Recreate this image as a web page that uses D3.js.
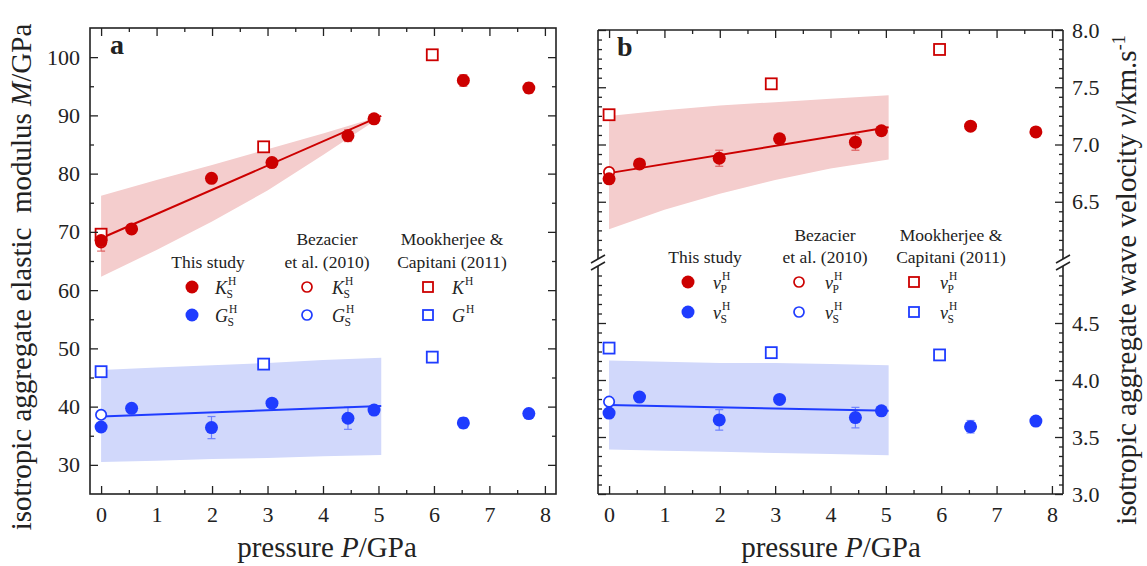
<!DOCTYPE html>
<html>
<head>
<meta charset="utf-8">
<script src="https://cdn.jsdelivr.net/npm/d3@7"></script>
<style>
    body { margin: 0; background: #fff; }
    svg text { font-family: "Liberation Serif", "DejaVu Serif", serif; fill: #222; }
</style>
</head>
<body>
<div id="chart"></div>
<script>
// ---- data ----
const pressure = [0, 0.55, 1.99, 3.08, 4.45, 4.92, 6.53, 7.71];
const KS = [68.5, 70.5, 79.2, 81.9, 86.5, 89.4, 96.0, 94.7];
const KSerr = [1.8, 0.5, 0.5, 0.6, 1.0, 0.5, 1.0, 0.9];
const GS = [36.5, 39.7, 36.4, 40.6, 38.0, 39.4, 37.2, 38.8];
const GSerr = [0.5, 0.5, 1.9, 0.5, 1.9, 0.5, 0.9, 0.6];
const vP = [6.70, 6.83, 6.88, 7.05, 7.02, 7.12, 7.16, 7.11];
const vPerr = [0.03, 0.02, 0.07, 0.02, 0.07, 0.02, 0.03, 0.02];
const vS = [3.71, 3.85, 3.65, 3.83, 3.67, 3.73, 3.59, 3.64];
const vSerr = [0.02, 0.02, 0.09, 0.02, 0.09, 0.02, 0.055, 0.02];

// Bezacier et al. (2010)
const bezP = [0];
const bezK = [68.2];
const bezG = [38.6];
const bezVP = [6.76];
const bezVS = [3.81];

// Mookherjee & Capitani (2011)
const mooP = [0, 2.93, 5.97];
const mooK = [69.6, 84.6, 100.4];
const mooG = [46.0, 47.3, 48.5];
const mooVP = [7.26, 7.53, 7.83];
const mooVS = [4.28, 4.24, 4.22];

// fits
const fitP = [0, 5.05];
const fitK = [68.9, 89.9];
const fitG = [38.3, 40.1];
const fitVP = [6.75, 7.15];
const fitVS = [3.78, 3.73];

// confidence bands
const bandP = [0, 1, 2, 3, 4, 5.05];
const bandKhi = [76.2, 78.9, 81.5, 84.2, 86.9, 89.9];
const bandKlo = [62.3, 66.9, 71.8, 77.1, 83.2, 89.8];
const bandGhi = [46.3, 46.7, 47.1, 47.5, 48.0, 48.4];
const bandGlo = [30.5, 30.7, 31.0, 31.2, 31.5, 31.7];
const bandVPhi = [7.25, 7.30, 7.34, 7.37, 7.40, 7.43];
const bandVPlo = [6.26, 6.43, 6.57, 6.69, 6.79, 6.87];
const bandVShi = [4.17, 4.16, 4.15, 4.15, 4.14, 4.13];
const bandVSlo = [3.39, 3.38, 3.37, 3.36, 3.35, 3.34];

// ticks
const xMajor = [0, 1, 2, 3, 4, 5, 6, 7, 8];
const xMinor = [0.5, 1.5, 2.5, 3.5, 4.5, 5.5, 6.5, 7.5];
const mMajor = [30, 40, 50, 60, 70, 80, 90, 100];
const mMinor = [35, 45, 55, 65, 75, 85, 95];
const vUpMajor = [6.5, 7.0, 7.5, 8.0];
const vLoMajor = [3.0, 3.5, 4.0, 4.5];

const red = "#cc0000", blue = "#1f3cff";
const redBand = "#f4cdcd", blueBand = "#d1d8fb";

const svg = d3.select("#chart").append("svg")
    .attr("width", 1147)
    .attr("height", 566);

// Scales
const xA = d3.scaleLinear().domain([-0.2, 8.2]).range([90, 556]);
const yA = d3.scaleLinear().domain([25, 105]).range([494, 28]);
const xB = d3.scaleLinear().domain([-0.2, 8.2]).range([598, 1063]);
const yBUp = d3.scaleLinear().domain([6, 8]).range([259, 30]);
const yBLo = d3.scaleLinear().domain([3, 5]).range([494, 266]);

// minor ticks of panel b: 5 between every labelled tick
function minorsBetween(majors, lo, hi) {
    const step = 0.5 / 6;
    const out = [];
    for (let v = lo + step; v < hi - 1e-6; v += step) {
        if (!majors.some(m => Math.abs(m - v) < 1e-6)) out.push(v);
    }
    return out;
}

function styleAxis(g) {
    g.select(".domain").remove();
    g.selectAll(".tick line").attr("stroke", "#222").attr("stroke-width", 1.3);
    g.selectAll(".tick text").style("font-size", "22px").attr("fill", "#222");
}

function addAxis(axis, tx, ty) {
    svg.append("g")
        .attr("transform", `translate(${tx},${ty})`)
        .call(axis)
        .call(styleAxis);
}

// ---------- bands, lines, points ----------
function drawBand(x, y, lo, hi, color) {
    const pts = bandP.map((p, i) => ({ p: p, lo: lo[i], hi: hi[i] }));
    svg.append("path")
        .attr("d", d3.area().x(d => x(d.p)).y0(d => y(d.lo)).y1(d => y(d.hi))(pts))
        .attr("fill", color);
}

function drawFit(x, y, vals, color) {
    const pts = fitP.map((p, i) => ({ p: p, v: vals[i] }));
    svg.append("path")
        .attr("d", d3.line().x(d => x(d.p)).y(d => y(d.v))(pts))
        .attr("stroke", color)
        .attr("stroke-width", 2)
        .attr("fill", "none");
}

function drawErrors(x, y, vals, errs, color) {
    const g = svg.append("g").attr("stroke", color).attr("stroke-width", 1.2).attr("opacity", 0.55);
    pressure.forEach((p, i) => {
        const cx = x(p), y0 = y(vals[i] - errs[i]), y1 = y(vals[i] + errs[i]);
        g.append("line").attr("x1", cx).attr("x2", cx).attr("y1", y0).attr("y2", y1);
        g.append("line").attr("x1", cx - 4).attr("x2", cx + 4).attr("y1", y0).attr("y2", y0);
        g.append("line").attr("x1", cx - 4).attr("x2", cx + 4).attr("y1", y1).attr("y2", y1);
    });
}

function drawFilled(x, y, ps, vals, color) {
    svg.append("g").selectAll("circle")
        .data(ps.map((p, i) => ({ p: p, v: vals[i] })))
        .enter().append("circle")
        .attr("cx", d => x(d.p)).attr("cy", d => y(d.v))
        .attr("r", 6.5).attr("fill", color);
}

function drawOpen(x, y, ps, vals, color) {
    svg.append("g").selectAll("circle")
        .data(ps.map((p, i) => ({ p: p, v: vals[i] })))
        .enter().append("circle")
        .attr("cx", d => x(d.p)).attr("cy", d => y(d.v))
        .attr("r", 5.2).attr("fill", "white").attr("stroke", color).attr("stroke-width", 1.7);
}

function drawSquares(x, y, ps, vals, color) {
    svg.append("g").selectAll("rect")
        .data(ps.map((p, i) => ({ p: p, v: vals[i] })))
        .enter().append("rect")
        .attr("x", d => x(d.p) - 5.5).attr("y", d => y(d.v) - 5.5)
        .attr("width", 11).attr("height", 11)
        .attr("fill", "white").attr("stroke", color).attr("stroke-width", 1.8);
}

// panel a
drawBand(xA, yA, bandKlo, bandKhi, redBand);
drawBand(xA, yA, bandGlo, bandGhi, blueBand);
drawFit(xA, yA, fitK, red);
drawFit(xA, yA, fitG, blue);
drawErrors(xA, yA, KS, KSerr, red);
drawErrors(xA, yA, GS, GSerr, blue);
drawSquares(xA, yA, mooP, mooK, red);
drawSquares(xA, yA, mooP, mooG, blue);
drawOpen(xA, yA, bezP, bezK, red);
drawOpen(xA, yA, bezP, bezG, blue);
drawFilled(xA, yA, pressure, KS, red);
drawFilled(xA, yA, pressure, GS, blue);

// panel b
drawBand(xB, yBUp, bandVPlo, bandVPhi, redBand);
drawBand(xB, yBLo, bandVSlo, bandVShi, blueBand);
drawFit(xB, yBUp, fitVP, red);
drawFit(xB, yBLo, fitVS, blue);
drawErrors(xB, yBUp, vP, vPerr, red);
drawErrors(xB, yBLo, vS, vSerr, blue);
drawSquares(xB, yBUp, mooP, mooVP, red);
drawSquares(xB, yBLo, mooP, mooVS, blue);
drawOpen(xB, yBUp, bezP, bezVP, red);
drawOpen(xB, yBLo, bezP, bezVS, blue);
drawFilled(xB, yBUp, pressure, vP, red);
drawFilled(xB, yBLo, pressure, vS, blue);

// ---------- axes ----------
// panel a
addAxis(d3.axisBottom(xA).tickValues(xMajor).tickSize(-8).tickPadding(12).tickFormat(d3.format("d")), 0, 494);
addAxis(d3.axisBottom(xA).tickValues(xMinor).tickSize(-4).tickFormat(""), 0, 494);
addAxis(d3.axisTop(xA).tickValues(xMajor).tickSize(-8).tickFormat(""), 0, 28);
addAxis(d3.axisTop(xA).tickValues(xMinor).tickSize(-4).tickFormat(""), 0, 28);
addAxis(d3.axisLeft(yA).tickValues(mMajor).tickSize(-8).tickPadding(10).tickFormat(d3.format("d")), 90, 0);
addAxis(d3.axisLeft(yA).tickValues(mMinor).tickSize(-4).tickFormat(""), 90, 0);
addAxis(d3.axisRight(yA).tickValues(mMajor).tickSize(-8).tickFormat(""), 556, 0);
addAxis(d3.axisRight(yA).tickValues(mMinor).tickSize(-4).tickFormat(""), 556, 0);

svg.append("rect")
    .attr("x", 90).attr("y", 28).attr("width", 556 - 90).attr("height", 494 - 28)
    .attr("fill", "none").attr("stroke", "#222").attr("stroke-width", 1.6);

// panel b
addAxis(d3.axisBottom(xB).tickValues(xMajor).tickSize(-8).tickPadding(12).tickFormat(d3.format("d")), 0, 494);
addAxis(d3.axisBottom(xB).tickValues(xMinor).tickSize(-4).tickFormat(""), 0, 494);
addAxis(d3.axisTop(xB).tickValues(xMajor).tickSize(-8).tickFormat(""), 0, 30);
addAxis(d3.axisTop(xB).tickValues(xMinor).tickSize(-4).tickFormat(""), 0, 30);

[[yBUp, vUpMajor, 6, 8], [yBLo, vLoMajor, 3, 5]].forEach(([ys, majors, lo, hi]) => {
    const minors = minorsBetween(majors, lo, hi);
    addAxis(d3.axisLeft(ys).tickValues(majors).tickSize(-8).tickFormat(""), 598, 0);
    addAxis(d3.axisLeft(ys).tickValues(minors).tickSize(-4).tickFormat(""), 598, 0);
    addAxis(d3.axisRight(ys).tickValues(majors).tickSize(-8).tickPadding(9).tickFormat(d3.format(".1f")), 1063, 0);
    addAxis(d3.axisRight(ys).tickValues(minors).tickSize(-4).tickFormat(""), 1063, 0);
});

const frameB = svg.append("g").attr("stroke", "#222").attr("stroke-width", 1.6).attr("fill", "none");
frameB.append("line").attr("x1", 598).attr("x2", 1063).attr("y1", 30).attr("y2", 30);
frameB.append("line").attr("x1", 598).attr("x2", 1063).attr("y1", 494).attr("y2", 494);
[598, 1063].forEach(x => {
    frameB.append("line").attr("x1", x).attr("x2", x).attr("y1", 30).attr("y2", yBUp(6));
    frameB.append("line").attr("x1", x).attr("x2", x).attr("y1", yBLo(5)).attr("y2", 494);
    // break marks
    frameB.append("line").attr("x1", x - 7).attr("x2", x + 7).attr("y1", yBUp(6) + 4).attr("y2", yBUp(6) - 4);
    frameB.append("line").attr("x1", x - 7).attr("x2", x + 7).attr("y1", yBLo(5) + 4).attr("y2", yBLo(5) - 4);
});

// ---------- titles ----------
[327, 831].forEach(cx => {
    const t = svg.append("text")
        .attr("x", cx).attr("y", 557)
        .attr("text-anchor", "middle")
        .style("font-size", "29px");
    t.append("tspan").text("pressure ");
    t.append("tspan").style("font-style", "italic").text("P");
    t.append("tspan").text("/GPa");
});

const leftTitle = svg.append("text")
    .attr("transform", "translate(31,277) rotate(-90)")
    .attr("text-anchor", "middle")
    .style("font-size", "29px")
    .attr("xml:space", "preserve");
leftTitle.append("tspan").text("isotropic aggregate elastic  modulus ");
leftTitle.append("tspan").style("font-style", "italic").text("M");
leftTitle.append("tspan").text("/GPa");

const rightTitle = svg.append("text")
    .attr("transform", "translate(1136,280) rotate(-90)")
    .attr("text-anchor", "middle")
    .style("font-size", "29px");
rightTitle.append("tspan").text("isotropic aggregate wave velocity ");
rightTitle.append("tspan").style("font-style", "italic").text("v");
rightTitle.append("tspan").text("/km.s");
rightTitle.append("tspan").attr("dy", -11).style("font-size", "18px").text("-1");

svg.append("text").attr("x", 110).attr("y", 54).style("font-size", "28px").style("font-weight", "bold").text("a");
svg.append("text").attr("x", 617).attr("y", 56).style("font-size", "28px").style("font-weight", "bold").text("b");

// ---------- legends ----------
function header(cx, y, txt) {
    svg.append("text").attr("x", cx).attr("y", y)
        .attr("text-anchor", "middle").style("font-size", "17.5px").text(txt);
}

// symbol with stacked superscript / subscript, kept in one text element
function symbol(x, rowY, main, sup, sub) {
    const t = svg.append("text").attr("x", x).attr("y", rowY + 7).style("font-size", "18px");
    t.append("tspan").style("font-style", "italic").text(main);
    const s = t.append("tspan").attr("dx", 1).attr("dy", -9).style("font-size", "11.5px").text(sup);
    if (sub) {
        const w = s.node().getComputedTextLength();
        t.append("tspan").attr("dx", -w - 1.5).attr("dy", 13).style("font-size", "11.5px").text(sub);
    }
}

function legendMarker(kind, x, y, color) {
    if (kind === "filled") {
        svg.append("circle").attr("cx", x).attr("cy", y).attr("r", 6.5).attr("fill", color);
    } else if (kind === "open") {
        svg.append("circle").attr("cx", x).attr("cy", y).attr("r", 5).attr("fill", "white")
            .attr("stroke", color).attr("stroke-width", 1.7);
    } else {
        svg.append("rect").attr("x", x - 5).attr("y", y - 5).attr("width", 10).attr("height", 10)
            .attr("fill", "white").attr("stroke", color).attr("stroke-width", 1.8);
    }
}

// panel a legend
header(208, 268, "This study");
header(327, 245, "Bezacier");
header(327, 268, "et al. (2010)");
header(452, 245, "Mookherjee &");
header(452, 268, "Capitani (2011)");
legendMarker("filled", 192, 287, red);   symbol(215, 287, "K", "H", "S");
legendMarker("filled", 192, 315, blue);  symbol(215, 315, "G", "H", "S");
legendMarker("open", 307, 287, red);     symbol(332, 287, "K", "H", "S");
legendMarker("open", 307, 315, blue);    symbol(332, 315, "G", "H", "S");
legendMarker("square", 428, 287, red);   symbol(452, 287, "K", "H", null);
legendMarker("square", 428, 315, blue);  symbol(452, 315, "G", "H", null);

// panel b legend
header(705, 263, "This study");
header(825, 241, "Bezacier");
header(825, 263, "et al. (2010)");
header(951, 241, "Mookherjee &");
header(951, 263, "Capitani (2011)");
legendMarker("filled", 688, 282, red);   symbol(713, 282, "v", "H", "P");
legendMarker("filled", 688, 312, blue);  symbol(713, 312, "v", "H", "S");
legendMarker("open", 799, 282, red);     symbol(825, 282, "v", "H", "P");
legendMarker("open", 799, 312, blue);    symbol(825, 312, "v", "H", "S");
legendMarker("square", 914, 282, red);   symbol(940, 282, "v", "H", "P");
legendMarker("square", 914, 312, blue);  symbol(940, 312, "v", "H", "S");
</script>
</body>
</html>
